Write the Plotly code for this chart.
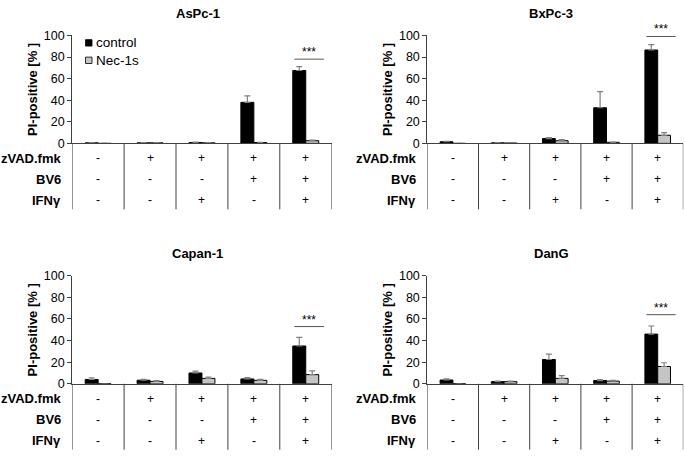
import plotly.graph_objects as go

W, H = 685, 457

panels = ["AsPc-1", "BxPc-3", "Capan-1", "DanG"]
groups = ["g1", "g2", "g3", "g4", "g5"]

control_vals = {
    "AsPc-1": [0.5, 0.5, 0.8, 38, 67.5],
    "BxPc-3": [1.5, 0.5, 4.5, 33, 86.5],
    "Capan-1": [4, 3.3, 10, 4.5, 35],
    "DanG": [3.5, 2, 22.5, 3, 46],
}
control_err = {
    "AsPc-1": [0.3, 0.3, 0.3, 6, 3.5],
    "BxPc-3": [0.3, 0.2, 0.8, 15, 5],
    "Capan-1": [1.5, 0.9, 1.8, 1.2, 8],
    "DanG": [1, 0.5, 5, 0.8, 7.5],
}
nec_vals = {
    "AsPc-1": [0, 0.5, 0.5, 0.8, 2.5],
    "BxPc-3": [0, 0.3, 2.5, 1, 7.5],
    "Capan-1": [0, 2.2, 5, 3.2, 8.5],
    "DanG": [0, 2, 5, 2.5, 16],
}
nec_err = {
    "AsPc-1": [0, 0.2, 0.2, 0.2, 0.5],
    "BxPc-3": [0, 0.2, 1, 0.3, 2.5],
    "Capan-1": [0, 0.8, 1.3, 1, 3.5],
    "DanG": [0, 0.5, 2.5, 0.7, 3.5],
}
sig_level = {"AsPc-1": 78, "BxPc-3": 99, "Capan-1": 53, "DanG": 64}

series_names = ["control", "Nec-1s"]
series_colors = ["black", "#c4c4c4"]

row_labels = ["zVAD.fmk", "BV6", "IFNγ"]
row_signs = [
    ["-", "+", "+", "+", "+"],
    ["-", "-", "-", "+", "+"],
    ["-", "-", "+", "-", "+"],
]

# layout in pixels: (left, right, top(100), bottom(0))
px_box = {
    "AsPc-1": (72.2, 331.7, 29.3, 140.7),
    "BxPc-3": (427.3, 683.3, 29.3, 140.7),
    "Capan-1": (72.2, 331.7, 277.3, 388.7),
    "DanG": (427.3, 683.3, 277.3, 388.7),
}
row_offsets_px = [15.5, 37.2, 58.8]
table_bottom_px = 68

FONT = "Liberation Sans, Arial, sans-serif"
AX = "#404040"

fig = go.Figure()
layout = dict(
    width=W, height=H, margin=dict(l=0, r=0, t=0, b=0),
    paper_bgcolor="white", plot_bgcolor="white",
    barmode="group", bargap=0.5, bargroupgap=0,
    font=dict(family=FONT, size=12, color="black"),
    showlegend=False,
)
annotations = []
shapes = []

for i, name in enumerate(panels):
    k = "" if i == 0 else str(i + 1)
    xa, ya = "x" + k, "y" + k
    L, R, T, B = px_box[name]
    dh = B - T
    xdom = [L / W, R / W]
    ydom = [1 - B / H, 1 - T / H]
    xs = list(range(len(groups)))

    fig.add_trace(go.Bar(
        x=xs, y=control_vals[name], name=series_names[0], xaxis=xa, yaxis=ya,
        marker=dict(color=series_colors[0], line=dict(color="black", width=1)),
        error_y=dict(type="data", array=control_err[name], arrayminus=[0] * 5,
                     symmetric=False, color="#808080", thickness=1.2, width=3),
        offsetgroup="c",
    ))
    fig.add_trace(go.Bar(
        x=xs, y=nec_vals[name], name=series_names[1], xaxis=xa, yaxis=ya,
        marker=dict(color=series_colors[1], line=dict(color="black", width=1)),
        error_y=dict(type="data", array=nec_err[name], arrayminus=[0] * 5,
                     symmetric=False, color="#808080", thickness=1.2, width=3),
        offsetgroup="n",
    ))

    layout["xaxis" + k] = dict(
        domain=xdom, anchor=ya, range=[-0.5, 4.5], showticklabels=False,
        ticks="", showgrid=False, zeroline=False, showline=True,
        linecolor=AX, linewidth=1, fixedrange=True,
    )
    layout["yaxis" + k] = dict(
        domain=ydom, anchor=xa, range=[0, 100], tickvals=[0, 20, 40, 60, 80, 100],
        ticks="outside", ticklen=4, tickcolor=AX, showgrid=False, zeroline=False,
        showline=True, linecolor=AX, linewidth=1,
        tickfont=dict(size=12.5, color="black"),
        title=dict(text="<b>PI-positive [% ]</b>", font=dict(size=13), standoff=3),
    )

    # title
    annotations.append(dict(
        text="<b>%s</b>" % name, xref=xa + " domain", yref=ya + " domain",
        x=0.5, y=1, yshift=22, xshift=-4, showarrow=False,
        font=dict(size=13), xanchor="center", yanchor="middle",
    ))

    # table vertical lines
    for b in [-0.5, 0.5, 1.5, 2.5, 3.5, 4.5]:
        shapes.append(dict(
            type="line", xref=xa, yref=ya + " domain", x0=b, x1=b,
            y0=0, y1=-table_bottom_px / dh, line=dict(color=AX, width=1),
        ))
    # table rows
    for r, lab in enumerate(row_labels):
        yy = -row_offsets_px[r] / dh
        annotations.append(dict(
            text="<b>%s</b>" % lab, xref=xa + " domain", yref=ya + " domain",
            x=0, y=yy, xshift=-9, xanchor="right", yanchor="middle",
            showarrow=False, font=dict(size=13),
        ))
        for g, s in enumerate(row_signs[r]):
            annotations.append(dict(
                text=s, xref=xa, yref=ya + " domain", x=g, y=yy,
                xanchor="center", yanchor="middle", showarrow=False,
                font=dict(size=12),
            ))

    # significance
    lv = sig_level[name]
    shapes.append(dict(type="line", xref=xa, yref=ya, x0=3.78, x1=4.35,
                       y0=lv, y1=lv, line=dict(color="#555555", width=1)))
    annotations.append(dict(
        text="***", xref=xa, yref=ya, x=4.06, y=lv, yanchor="bottom",
        xanchor="center", showarrow=False, font=dict(size=12), yshift=-2,
    ))

# legend (inside first panel, top-left)
leg_x_px = 85.5
leg_y_px = [37, 55]
for j, (nm, col) in enumerate(zip(series_names, series_colors)):
    cy = leg_y_px[j]
    shapes.append(dict(
        type="rect", xref="paper", yref="paper",
        x0=leg_x_px / W, x1=(leg_x_px + 6.5) / W,
        y0=1 - (cy + 3.3) / H, y1=1 - (cy - 3.3) / H,
        fillcolor=col, line=dict(color="black", width=0.8),
    ))
    annotations.append(dict(
        text=nm, xref="paper", yref="paper", x=(leg_x_px + 8.5) / W,
        y=1 - cy / H, xanchor="left", yanchor="middle", showarrow=False,
        font=dict(size=13.5),
    ))

layout["annotations"] = annotations
layout["shapes"] = shapes
fig.update_layout(**layout)
fig.write_html(
    "out.html",
    config={"displayModeBar": False},
    post_script="document.body.style.margin='0';document.body.style.overflow='hidden';",
)
